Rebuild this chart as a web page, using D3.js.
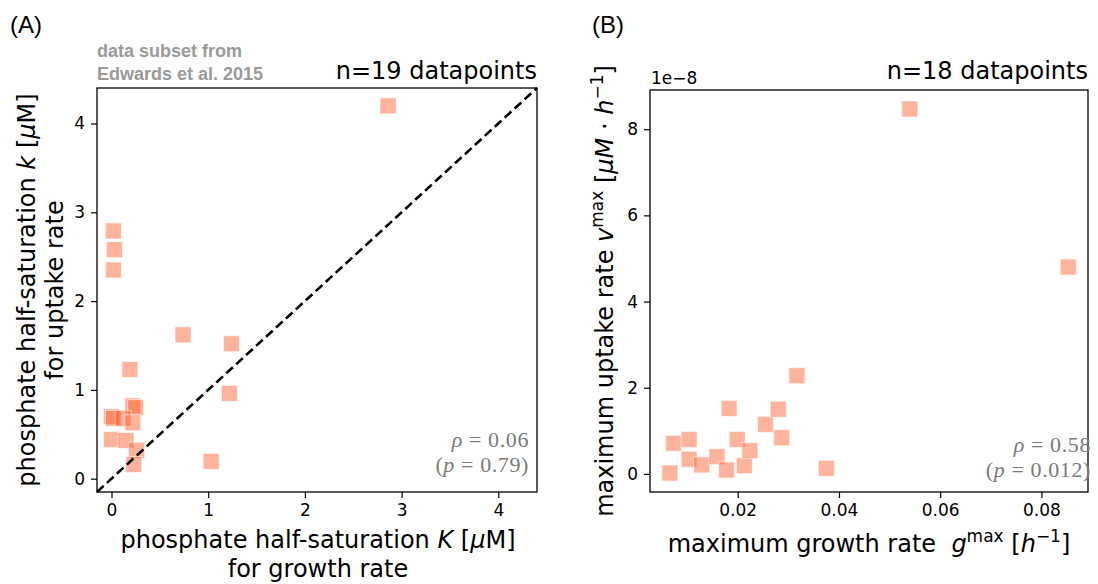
<!DOCTYPE html>
<html>
<head>
<meta charset="utf-8">
<script src="https://cdn.jsdelivr.net/npm/d3@7"></script>
<style>
  body { margin: 0; background: #fff; }
  text { font-family: "DejaVu Sans", sans-serif; }
  .tick text { font-size: 17px; fill: #000; }
</style>
</head>
<body>
<div id="chart"></div>
<script>
// panel A: half-saturation constants (uM)
var growthK = [2.86, 0.02, 0.03, 0.02, 0.74, 1.24, 0.19, 1.22, 0.22, 0.25, 0.00, 0.02, 0.12, 0.22, 0.00, 0.15, 0.26, 0.23, 1.03];
var uptakeK = [4.20, 2.79, 2.58, 2.35, 1.62, 1.52, 1.23, 0.96, 0.82, 0.80, 0.70, 0.68, 0.68, 0.63, 0.44, 0.43, 0.32, 0.16, 0.195];

// panel B: max growth rate (1/h) and max uptake rate (x 1e-8)
var gMax = [0.0066, 0.0073, 0.0104, 0.0104, 0.0129, 0.0159, 0.0178, 0.0183, 0.0199, 0.0213, 0.0224, 0.0255, 0.0280, 0.0287, 0.0317, 0.0375, 0.0540, 0.0853];
var vMax = [0.02, 0.71, 0.80, 0.34, 0.21, 0.40, 0.09, 1.52, 0.80, 0.19, 0.54, 1.15, 1.50, 0.84, 2.28, 0.13, 8.47, 4.80];

var ticksA = [0, 1, 2, 3, 4];
var ticksBx = [0.02, 0.04, 0.06, 0.08];
var ticksBy = [0, 2, 4, 6, 8];

var svg_w = 1098, svg_h = 584;
var marker = 16;

var svg = d3.select("#chart")
      .append("svg")
      .attr("width", svg_w)
      .attr("height", svg_h);

function makePanel(box, xDomain, yDomain, xs, ys, xTicks, yTicks, xFmt, yFmt) {
    var xScale = d3.scaleLinear().domain(xDomain).range([box.left, box.right]);
    var yScale = d3.scaleLinear().domain(yDomain).range([box.bottom, box.top]);

    var pts = xs.map(function(x, i) { return {x: x, y: ys[i]}; });

    svg.append("g")
      .selectAll("rect")
      .data(pts)
      .enter()
      .append("rect")
      .attr("x", function(d) { return xScale(d.x) - marker/2; })
      .attr("y", function(d) { return yScale(d.y) - marker/2; })
      .attr("width", marker)
      .attr("height", marker)
      .style("fill", "rgba(252,85,30,0.44)")
      .style("stroke", "rgba(255,255,255,0.6)")
      .style("stroke-width", 1);

    var xAxis = d3.axisBottom(xScale).tickValues(xTicks).tickFormat(xFmt)
                  .tickSizeOuter(0).tickSize(6).tickPadding(6);
    var yAxis = d3.axisLeft(yScale).tickValues(yTicks).tickFormat(yFmt)
                  .tickSizeOuter(0).tickSize(6).tickPadding(6);

    var gx = svg.append("g")
      .attr("transform", "translate(0," + box.bottom + ")")
      .call(xAxis);
    var gy = svg.append("g")
      .attr("transform", "translate(" + box.left + ",0)")
      .call(yAxis);
    gx.select(".domain").remove();
    gy.select(".domain").remove();
    svg.selectAll(".tick line").style("stroke-width", 1.2);
    svg.selectAll(".tick text").attr("font-family", null);
    svg.selectAll(".tick text").attr("font-size", null);

    svg.append("rect")
      .attr("x", box.left)
      .attr("y", box.top)
      .attr("width", box.right - box.left)
      .attr("height", box.bottom - box.top)
      .style("fill", "none")
      .style("stroke", "#000")
      .style("stroke-width", 1.3);

    return {x: xScale, y: yScale};
}

var boxA = {left: 97, right: 537, top: 88, bottom: 492};
var boxB = {left: 650, right: 1088, top: 90, bottom: 492};

var a = makePanel(boxA, [-0.15, 4.4], [-0.15, 4.4], growthK, uptakeK, ticksA, ticksA,
                  d3.format("d"), d3.format("d"));

// 1:1 line
svg.append("line")
  .attr("x1", a.x(-0.15)).attr("y1", a.y(-0.15))
  .attr("x2", a.x(4.4)).attr("y2", a.y(4.4))
  .style("stroke", "#000")
  .style("stroke-width", 2.6)
  .style("stroke-dasharray", "9,4.5");

var b = makePanel(boxB, [0.00267, 0.0892], [-0.42, 8.91], gMax, vMax, ticksBx, ticksBy,
                  d3.format(".2f"), d3.format("d"));

// panel letters
svg.append("text").attr("x", 10).attr("y", 33)
  .style("font-family", "Liberation Sans, Arial, sans-serif").style("font-size", "24px")
  .text("(A)");
svg.append("text").attr("x", 592).attr("y", 33)
  .style("font-family", "Liberation Sans, Arial, sans-serif").style("font-size", "24px")
  .text("(B)");

// data source note
svg.append("text").attr("x", 97).attr("y", 57)
  .style("font-family", "Liberation Sans, Arial, sans-serif").style("font-weight", "bold")
  .style("font-size", "18px").style("fill", "#9a9a9a")
  .text("data subset from");
svg.append("text").attr("x", 97).attr("y", 80)
  .style("font-family", "Liberation Sans, Arial, sans-serif").style("font-weight", "bold")
  .style("font-size", "18px").style("fill", "#9a9a9a")
  .text("Edwards et al. 2015");

// n labels
svg.append("text").attr("x", boxA.right).attr("y", 79).attr("text-anchor", "end")
  .style("font-size", "24px").text("n=19 datapoints");
svg.append("text").attr("x", boxB.right).attr("y", 79).attr("text-anchor", "end")
  .style("font-size", "24px").text("n=18 datapoints");

// offset label
svg.append("text").attr("x", boxB.left + 1).attr("y", 84)
  .style("font-size", "17px").text("1e\u22128");

// correlation notes
function corrNote(x, y1, y2, rho, p) {
    var t1 = svg.append("text").attr("x", x).attr("y", y1).attr("text-anchor", "end")
      .style("font-family", "Liberation Serif, serif").style("font-size", "22px")
      .style("letter-spacing", "0.6px").style("fill", "#7a7a7a");
    t1.append("tspan").style("font-style", "italic").text("\u03C1");
    t1.append("tspan").text(" = " + rho);
    var t2 = svg.append("text").attr("x", x).attr("y", y2).attr("text-anchor", "end")
      .style("font-family", "Liberation Serif, serif").style("font-size", "22px")
      .style("letter-spacing", "0.6px").style("fill", "#7a7a7a");
    t2.append("tspan").text("(");
    t2.append("tspan").style("font-style", "italic").text("p");
    t2.append("tspan").text(" = " + p + ")");
}
corrNote(529, 447, 472, "0.06", "0.79");
corrNote(1091, 452, 477, "0.58", "0.012");

// axis labels panel A
var xl = svg.append("text").attr("x", (boxA.left + boxA.right)/2 + 1).attr("y", 548)
  .attr("text-anchor", "middle").style("font-size", "24px");
xl.append("tspan").text("phosphate half-saturation ");
xl.append("tspan").style("font-style", "italic").text("K");
xl.append("tspan").text(" [");
xl.append("tspan").style("font-style", "italic").text("\u03BC");
xl.append("tspan").text("M]");
svg.append("text").attr("x", (boxA.left + boxA.right)/2 + 1).attr("y", 577)
  .attr("text-anchor", "middle").style("font-size", "24px").text("for growth rate");

var yl = svg.append("text")
  .attr("transform", "translate(35," + (boxA.top + boxA.bottom)/2 + ") rotate(-90)")
  .attr("text-anchor", "middle").style("font-size", "24px");
yl.append("tspan").text("phosphate half-saturation ");
yl.append("tspan").style("font-style", "italic").text("k");
yl.append("tspan").text(" [");
yl.append("tspan").style("font-style", "italic").text("\u03BC");
yl.append("tspan").text("M]");
svg.append("text")
  .attr("transform", "translate(63," + (boxA.top + boxA.bottom)/2 + ") rotate(-90)")
  .attr("text-anchor", "middle").style("font-size", "24px").text("for uptake rate");

// axis labels panel B
var bx = svg.append("text").attr("x", (boxB.left + boxB.right)/2).attr("y", 552)
  .attr("text-anchor", "middle").style("font-size", "24px").style("white-space", "pre");
bx.append("tspan").text("maximum growth rate  ");
bx.append("tspan").style("font-style", "italic").text("g");
bx.append("tspan").attr("dy", -10).style("font-size", "17px").text("max");
bx.append("tspan").attr("dy", 10).text(" [");
bx.append("tspan").style("font-style", "italic").text("h");
bx.append("tspan").attr("dy", -10).style("font-size", "17px").text("\u22121");
bx.append("tspan").attr("dy", 10).text("]");

var by = svg.append("text")
  .attr("transform", "translate(613," + (boxB.top + boxB.bottom)/2 + ") rotate(-90)")
  .attr("text-anchor", "middle").style("font-size", "24px");
by.append("tspan").text("maximum uptake rate ");
by.append("tspan").style("font-style", "italic").text("v");
by.append("tspan").attr("dy", -10).style("font-size", "17px").text("max");
by.append("tspan").attr("dy", 10).text(" [");
by.append("tspan").style("font-style", "italic").text("\u03BCM");
by.append("tspan").text(" \u00B7 ");
by.append("tspan").style("font-style", "italic").text("h");
by.append("tspan").attr("dy", -10).style("font-size", "17px").text("\u22121");
by.append("tspan").attr("dy", 10).text("]");
</script>
</body>
</html>
